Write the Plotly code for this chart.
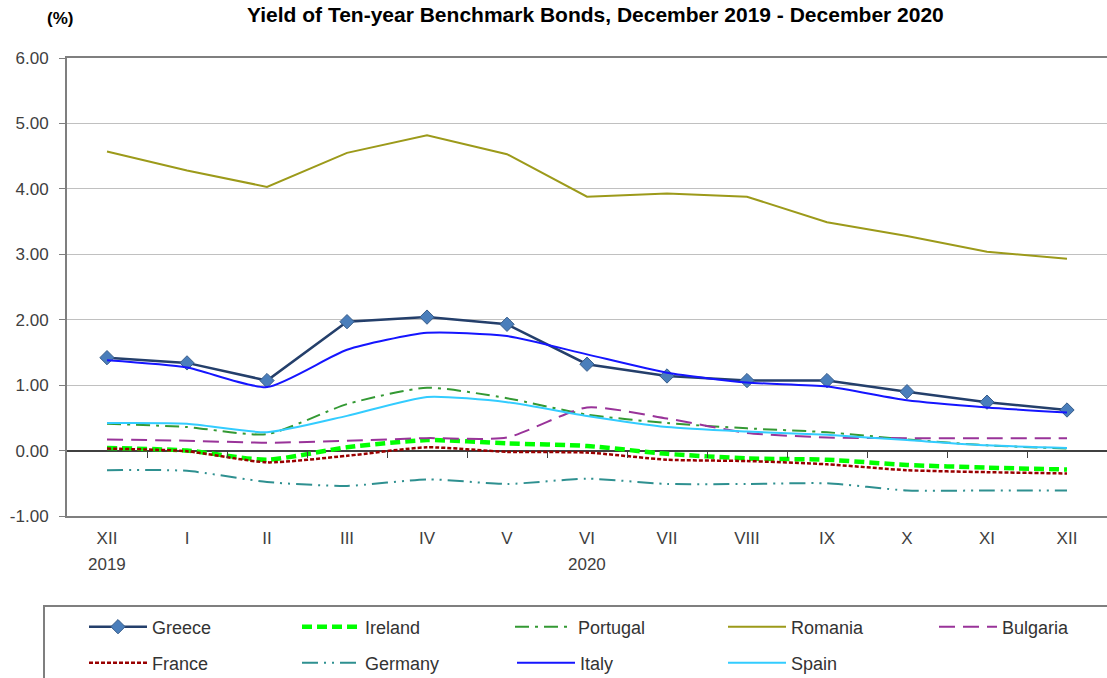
import plotly.graph_objects as go

months = ["XII", "I", "II", "III", "IV", "V", "VI", "VII", "VIII", "IX", "X", "XI", "XII"]
years = {0: "2019", 6: "2020"}

greece = [1.42, 1.34, 1.07, 1.97, 2.04, 1.93, 1.32, 1.14, 1.07, 1.07, 0.90, 0.74, 0.62]
ireland = [0.04, 0.00, -0.14, 0.05, 0.16, 0.11, 0.07, -0.05, -0.12, -0.14, -0.22, -0.26, -0.29]
portugal = [0.41, 0.36, 0.25, 0.71, 0.96, 0.80, 0.55, 0.42, 0.34, 0.28, 0.17, 0.08, 0.03]
romania = [4.57, 4.28, 4.03, 4.55, 4.82, 4.53, 3.88, 3.93, 3.88, 3.49, 3.28, 3.04, 2.93]
bulgaria = [0.17, 0.15, 0.12, 0.15, 0.19, 0.20, 0.66, 0.49, 0.27, 0.20, 0.19, 0.19, 0.19]
france = [0.03, -0.01, -0.18, -0.08, 0.05, -0.02, -0.03, -0.14, -0.16, -0.21, -0.30, -0.33, -0.35]
germany = [-0.30, -0.31, -0.48, -0.54, -0.44, -0.51, -0.43, -0.51, -0.51, -0.50, -0.61, -0.61, -0.61]
italy = [1.38, 1.27, 0.97, 1.54, 1.80, 1.75, 1.47, 1.19, 1.04, 0.98, 0.77, 0.66, 0.58]
spain = [0.42, 0.41, 0.28, 0.53, 0.82, 0.74, 0.53, 0.36, 0.29, 0.24, 0.16, 0.08, 0.04]

y_ticks = [6, 5, 4, 3, 2, 1, 0, -1]

x = list(range(len(months)))

W, H = 1107, 678
OFF = 0  # page body margin removed via post_script
ML, MR, MT, MB = 67 - OFF, OFF, 58 - OFF, H - (516 - OFF)
PW, PH = W - ML - MR, H - MT - MB

def px_x(p):
    # screen pixel -> paper fraction
    return (p - OFF - ML) / PW

def px_y(p):
    return (H - MB - (p - OFF)) / PH

# legend layout: (text x in screen px, row centre y in screen px)
legend_pos = [(152, 627), (365, 627), (578, 627), (791, 627), (1002, 627),
              (152, 663), (365, 663), (580, 663), (791, 663)]

series = [
    ("Greece", greece, dict(color="#243F6B", width=2.5), "linear", dict(symbol="diamond", size=11, color="#4A7EBB", line=dict(color="#385D8A", width=1))),
    ("Ireland", ireland, dict(color="#00FF00", width=4.5, dash="10px,5px"), "spline", None),
    ("Portugal", portugal, dict(color="#339933", width=2, dash="14px,6px,3px,6px"), "spline", None),
    ("Romania", romania, dict(color="#9C9A1A", width=2), "linear", None),
    ("Bulgaria", bulgaria, dict(color="#993399", width=2, dash="16px,8px"), "spline", None),
    ("France", france, dict(color="#990000", width=2.5, dash="4px,2px"), "spline", None),
    ("Germany", germany, dict(color="#2E9090", width=2, dash="16px,6px,2px,6px,2px,6px"), "spline", None),
    ("Italy", italy, dict(color="#1515FF", width=2), "spline", None),
    ("Spain", spain, dict(color="#33CCFF", width=2), "spline", None),
]

font = "Arial, Liberation Sans, sans-serif"

fig = go.Figure()
legends = {}
for k, (name, vals, line, shape, marker) in enumerate(series):
    line = dict(line)
    line["shape"] = shape
    if shape == "spline":
        line["smoothing"] = 0.6
    leg = "legend" if k == 0 else f"legend{k + 1}"
    kw = dict(x=x, y=vals, name=name, line=line, legend=leg)
    if marker:
        kw["mode"] = "lines+markers"
        kw["marker"] = marker
    else:
        kw["mode"] = "lines"
    fig.add_trace(go.Scatter(**kw))
    tx, ty = legend_pos[k]
    legends[leg] = dict(
        orientation="h", x=px_x(tx - 68), y=px_y(ty), xanchor="left", yanchor="middle",
        itemwidth=58, bgcolor="rgba(0,0,0,0)", borderwidth=0,
        font=dict(size=18, color="#333333", family=font),
    )

# helper trace for the category tick marks on the zero line
fig.add_trace(go.Scatter(x=x, y=[None] * len(x), xaxis="x2", yaxis="y",
                         showlegend=False, hoverinfo="skip", mode="lines"))

y0_paper = (0 - y_ticks[-1]) / (y_ticks[0] - y_ticks[-1])

fig.update_layout(
    width=W, height=H,
    margin=dict(l=ML, r=MR, t=MT, b=MB, pad=0, autoexpand=False),
    paper_bgcolor="white", plot_bgcolor="white",
    font=dict(family=font, size=17, color="#333333"),
    showlegend=True,
    xaxis=dict(
        range=[-0.5, 12.5], tickmode="array", tickvals=x, ticktext=months,
        showgrid=False, zeroline=False, showline=True, mirror=True,
        linecolor="#7F7F7F", linewidth=2, ticks="", ticklabelstandoff=6,
        tickfont=dict(size=17, color="#404040"),
    ),
    xaxis2=dict(
        range=[-0.5, 12.5], overlaying="x", anchor="free", position=y0_paper,
        side="bottom", showline=False, showgrid=False, zeroline=False,
        tickmode="array", tickvals=[i + 0.5 for i in x[:-1]], ticktext=[""] * (len(x) - 1),
        ticks="outside", ticklen=6, tickwidth=1, tickcolor="#404040", showticklabels=False,
    ),
    yaxis=dict(
        range=[y_ticks[-1], y_ticks[0]], tickmode="array", tickvals=y_ticks,
        ticktext=[f"{v:.2f}" for v in y_ticks],
        showgrid=True, gridcolor="#C0C0C0", gridwidth=1,
        zeroline=True, zerolinecolor="#404040", zerolinewidth=1.5,
        showline=True, linecolor="#7F7F7F", linewidth=2,
        ticks="outside", ticklen=6, tickcolor="#7F7F7F", ticklabelstandoff=7,
        tickfont=dict(size=17, color="#404040"),
    ),
    shapes=[
        dict(type="rect", xref="paper", yref="paper", x0=px_x(44), x1=px_x(W + 30),
             y0=px_y(606), y1=px_y(H + 30), line=dict(color="#7F7F7F", width=2),
             fillcolor="rgba(0,0,0,0)", layer="below"),
    ],
    annotations=[
        dict(text="<b>Yield of Ten-year Benchmark Bonds, December 2019 - December 2020</b>",
             xref="paper", yref="paper", x=px_x(595), y=px_y(15), xanchor="center", yanchor="middle",
             showarrow=False, borderpad=0, font=dict(size=21, color="black", family=font)),
        dict(text="<b>(%)</b>", xref="paper", yref="paper", x=px_x(60), y=px_y(19),
             xanchor="center", yanchor="middle", showarrow=False,
             font=dict(size=17, color="black", family=font)),
    ] + [
        dict(text=label, xref="x", yref="paper", x=i, y=px_y(564), xanchor="center",
             yanchor="middle", showarrow=False, font=dict(size=17, color="#404040", family=font))
        for i, label in years.items()
    ],
)
fig.update_layout(**legends)

fig.write_html("out.html", config={"displayModeBar": False},
               post_script="document.body.style.margin='0';")
